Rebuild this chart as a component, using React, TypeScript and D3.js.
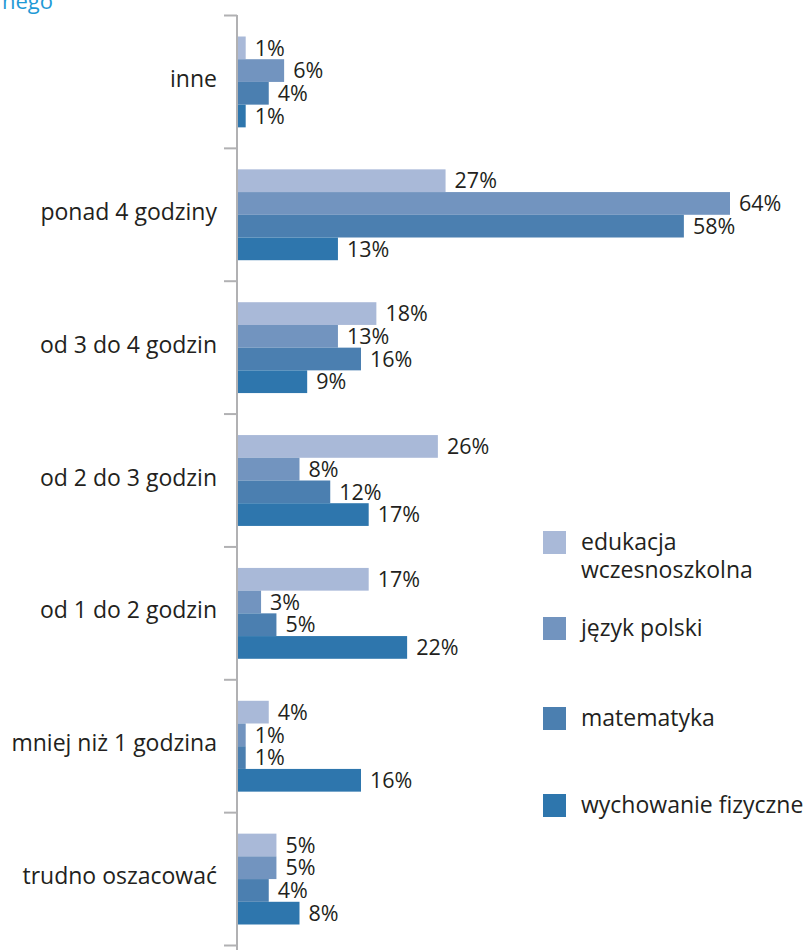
import * as d3 from "d3";

const categories = [
  "inne",
  "ponad 4 godziny",
  "od 3 do 4 godzin",
  "od 2 do 3 godzin",
  "od 1 do 2 godzin",
  "mniej niż 1 godzina",
  "trudno oszacować",
];
const seriesNames = ["edukacja wczesnoszkolna", "język polski", "matematyka", "wychowanie fizyczne"];
const legendLines = [["edukacja", "wczesnoszkolna"], ["język polski"], ["matematyka"], ["wychowanie fizyczne"]];
const edukacja = [1, 27, 18, 26, 17, 4, 5];
const polski = [6, 64, 13, 8, 3, 1, 5];
const matematyka = [4, 58, 16, 12, 5, 1, 4];
const wf = [1, 13, 9, 17, 22, 16, 8];
const colors = ["#a9b9d8", "#7294bf", "#4b7fb0", "#2e76ad"];

const W = 811;
const H = 950;
const FONT = "'Open Sans', 'Noto Sans', sans-serif";

export default function App() {
  const series = [edukacja, polski, matematyka, wf];
  const x0 = 238;
  const x = d3.scaleLinear().domain([0, 64]).range([x0, 730]);
  const y = d3.scaleBand<string>().domain(categories).range([15.5, 945.5]).padding(0);
  const inner = d3
    .scaleBand<number>()
    .domain(d3.range(series.length))
    .range([21, y.bandwidth() - 21])
    .padding(0);
  const legendY = [531, 617, 707, 794];

  return (
    <svg
      width={W}
      height={H}
      style={{ position: "absolute", left: 0, top: 0, background: "#fff" }}
      fontFamily={FONT}
    >
      <text x={2} y={9} fill="#1f9ad6" fontSize={22}>nego</text>

      {categories.map((c, ci) => (
        <g key={c} transform={`translate(0,${y(c)})`}>
          {series.map((s, si) => (
            <g key={si}>
              <rect
                x={x0}
                y={inner(si)}
                width={x(s[ci]) - x0}
                height={inner.bandwidth()}
                fill={colors[si]}
              />
              <text
                x={x(s[ci]) + 9}
                y={(inner(si) ?? 0) + inner.bandwidth() / 2}
                dy="0.36em"
                fontSize={21.5}
                fill="#231f20"
              >
                {s[ci]}%
              </text>
            </g>
          ))}
          <text
            x={217}
            y={y.bandwidth() / 2}
            dy="0.22em"
            textAnchor="end"
            fontSize={23}
            fill="#231f20"
          >
            {c}
          </text>
        </g>
      ))}

      <g stroke="#b1b1b3" strokeWidth={2}>
        <line x1={237} x2={237} y1={15} y2={H} />
        {categories.concat([""]).map((c, i) => {
          const yy = 15.5 + i * y.step();
          return <line key={i} x1={224} x2={237} y1={yy} y2={yy} />;
        })}
      </g>

      {seriesNames.map((n, i) => (
        <g key={n} transform={`translate(543,${legendY[i]})`}>
          <rect width={23} height={23} fill={colors[i]} />
          {legendLines[i].map((l, li) => (
            <text key={li} x={38} y={10.5 + li * 28} dy="0.35em" fontSize={23} fill="#231f20">
              {l}
            </text>
          ))}
        </g>
      ))}
    </svg>
  );
}
